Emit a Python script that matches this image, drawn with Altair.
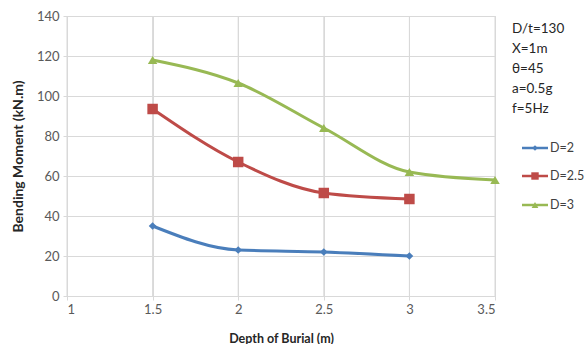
import altair as alt
import pandas as pd

depth_d2 = [1.5, 2, 2.5, 3]
moment_d2 = [35, 23, 22, 20]
depth_d25 = [1.5, 2, 2.5, 3]
moment_d25 = [93.5, 67, 51.5, 48.5]
depth_d3 = [1.5, 2, 2.5, 3, 3.5]
moment_d3 = [118, 106.5, 84, 62, 58]

series_names = ["D=2", "D=2.5", "D=3"]
series_colors = ["#4A7EBB", "#BE4B48", "#98B954"]
series_shapes = ["diamond", "square", "triangle-up"]
series_sizes = [60, 110, 90]

x_ticks = [1, 1.5, 2, 2.5, 3, 3.5]
y_ticks = [0, 20, 40, 60, 80, 100, 120, 140]

notes = ["D/t=130", "X=1m", "θ=45", "a=0.5g", "f=5Hz"]

W, H = 428, 280
FONT = "Lato"

rows = []
for name, xs, ys in zip(series_names, [depth_d2, depth_d25, depth_d3], [moment_d2, moment_d25, moment_d3]):
    for x, y in zip(xs, ys):
        rows.append({"series": name, "depth": x, "moment": y})
df = pd.DataFrame(rows)

xscale = alt.Scale(domain=[1, 3.5], nice=False, zero=False)
yscale = alt.Scale(domain=[0, 140], nice=False)

xaxis = alt.Axis(values=x_ticks, format="~g", title="Depth of Burial (m)", grid=True,
                 labelPadding=3, titleFontSize=12.5, titlePadding=16)
yaxis = alt.Axis(values=y_ticks, title="Bending Moment (kN.m)", grid=True,
                 labelPadding=4, titleFontSize=14, titlePadding=11)

# vertical grid lines drawn explicitly from the tick list
grid_df = pd.DataFrame({"gx": x_ticks})
vgrid = alt.Chart(grid_df).mark_rule(color="#D9D9D9", strokeWidth=1).encode(
    x=alt.X("gx:Q", scale=xscale, axis=xaxis))

base = alt.Chart(df)
layers = [vgrid]
for i, name in enumerate(series_names):
    sub = base.transform_filter(alt.datum.series == name)
    line = sub.mark_line(interpolate="monotone", strokeWidth=3, color=series_colors[i]).encode(
        x=alt.X("depth:Q", scale=xscale, axis=xaxis),
        y=alt.Y("moment:Q", scale=yscale, axis=yaxis),
    )
    pts = sub.mark_point(filled=True, opacity=1, shape=series_shapes[i], size=series_sizes[i],
                         color=series_colors[i]).encode(
        x=alt.X("depth:Q", scale=xscale, axis=xaxis),
        y=alt.Y("moment:Q", scale=yscale, axis=yaxis),
    )
    layers += [line, pts]

one = pd.DataFrame({"k": [0]})

notes_layer = alt.Chart(one).mark_text(align="left", baseline="top", font=FONT, fontSize=13.5,
                                       lineHeight=20, color="#262626").encode(
    x=alt.value(W + 17), y=alt.value(6), text=alt.value(notes))

leg_layers = []
leg_ys = [132, 160, 189]
for i, name in enumerate(series_names):
    leg_layers.append(alt.Chart(one).mark_rule(strokeWidth=2.5, color=series_colors[i]).encode(
        x=alt.value(W + 27), x2=alt.value(W + 53), y=alt.value(leg_ys[i])))
    leg_layers.append(alt.Chart(one).mark_point(filled=True, opacity=1, shape=series_shapes[i],
                                                size=series_sizes[i] * 0.5, color=series_colors[i]).encode(
        x=alt.value(W + 40), y=alt.value(leg_ys[i])))
    leg_layers.append(alt.Chart(one).mark_text(align="left", baseline="middle", font=FONT, fontSize=12.5,
                                               color="#404040").encode(
        x=alt.value(W + 55), y=alt.value(leg_ys[i]), text=alt.value(name)))

chart = alt.layer(*layers, notes_layer, *leg_layers).properties(
    width=W, height=H,
    autosize=alt.AutoSizeParams(type="none"),
    padding={"left": 67, "top": 16, "right": 90, "bottom": 48},
).configure_view(stroke=None).configure(background="white").configure_axis(
    gridColor="#D9D9D9", domainColor="#D9D9D9", tickColor="#D9D9D9", tickSize=4,
    labelColor="#595959", labelFont=FONT, labelFontSize=13,
    titleFont=FONT, titleFontWeight="bold", titleColor="#262626",
)

chart.save("out.html", embed_options={"renderer": "svg", "actions": False})
